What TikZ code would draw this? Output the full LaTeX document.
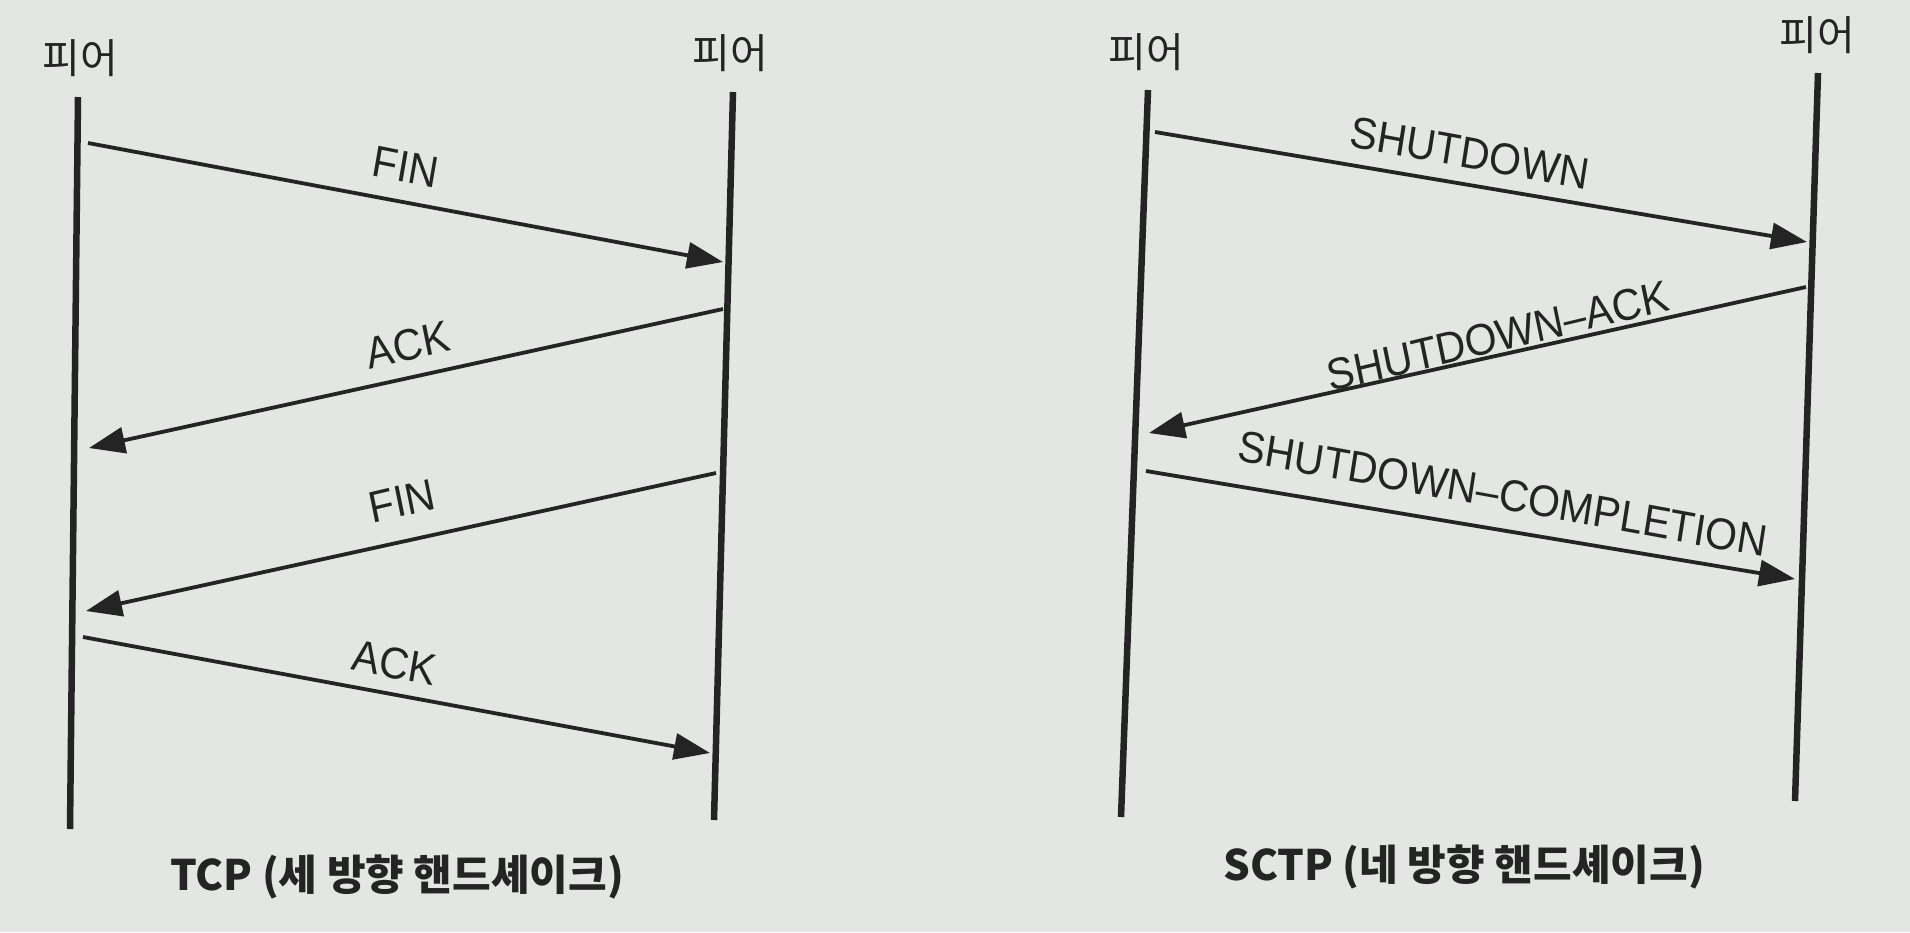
\documentclass[tikz,border=0pt]{standalone}
\usepackage{fontspec}
\setmainfont{Liberation Sans}
\newfontfamily\krfont{Noto Sans CJK KR}
\usetikzlibrary{arrows.meta}
\definecolor{bgc}{RGB}{227,230,227}
\definecolor{inkc}{RGB}{36,36,36}
\begin{document}
\begin{tikzpicture}[x=1pt,y=-1pt,
  life/.style={line width=6.5pt, draw=inkc},
  msg/.style={line width=3.8pt, draw=inkc, -{Triangle[length=36pt,width=26pt]}},
  lbl/.style={font=\fontsize{41}{41}\selectfont, text=inkc, inner sep=0pt, yscale=1.08},
  peer/.style={font=\krfont\fontsize{41}{41}\selectfont, text=inkc, inner sep=0pt},
  capt/.style={font=\krfont\bfseries\fontsize{42}{42}\selectfont, text=inkc, inner sep=0pt}]
\fill[bgc] (0,0) rectangle (1910,932);
\useasboundingbox (0,0) rectangle (1910,932);

% ---------- TCP ----------
\node[peer] (pA) at (80,58) {피어};
\node[peer] (pB) at (730,53) {피어};
\coordinate (aTop) at (78,97);
\coordinate (aBot) at (70,829);
\coordinate (bTop) at (733,92);
\coordinate (bBot) at (714,820);
\draw[life] (aTop) -- (aBot);
\draw[life] (bTop) -- (bBot);

\coordinate (t1s) at (88,143);
\coordinate (t1e) at (723,262);
\coordinate (t2s) at (723,309);
\coordinate (t2e) at (89,448);
\coordinate (t3s) at (716,473);
\coordinate (t3e) at (86,611);
\coordinate (t4s) at (83,637);
\coordinate (t4e) at (710,753);
\draw[msg] (t1s) -- (t1e);
\draw[msg] (t2s) -- (t2e);
\draw[msg] (t3s) -- (t3e);
\draw[msg] (t4s) -- (t4e);
\node[lbl, rotate=-10.6] (l1) at (406,167) {FIN};
\node[lbl, rotate=12.4] (l2) at (408,345) {ACK};
\node[lbl, rotate=12.4] (l3) at (402,501) {FIN};
\node[lbl, rotate=-10.5] (l4) at (395,663) {ACK};
\node[capt] (capA) at (397,877) {TCP (세 방향 핸드셰이크)};

% ---------- SCTP ----------
\node[peer] (pC) at (1146,52) {피어};
\node[peer] (pD) at (1817,35) {피어};
\coordinate (cTop) at (1148,90);
\coordinate (cBot) at (1121,817);
\coordinate (dTop) at (1818,73);
\coordinate (dBot) at (1795,801);
\draw[life] (cTop) -- (cBot);
\draw[life] (dTop) -- (dBot);

\coordinate (s1s) at (1155,132);
\coordinate (s1e) at (1807,242);
\coordinate (s2s) at (1806,287);
\coordinate (s2e) at (1149,433);
\coordinate (s3s) at (1146,471);
\coordinate (s3e) at (1795,579);
\draw[msg] (s1s) -- (s1e);
\draw[msg] (s2s) -- (s2e);
\draw[msg] (s3s) -- (s3e);
\node[lbl, rotate=-9.6] (m1) at (1470,153) {SHUTDOWN};
\node[lbl, rotate=12.5] (m2) at (1498,336) {SHUTDOWN–ACK};
\node[lbl, rotate=-9.6] (m3) at (1503,494) {SHUTDOWN–COMPLETION};
\node[capt] (capB) at (1464,867) {SCTP (네 방향 핸드셰이크)};
\end{tikzpicture}
\end{document}
